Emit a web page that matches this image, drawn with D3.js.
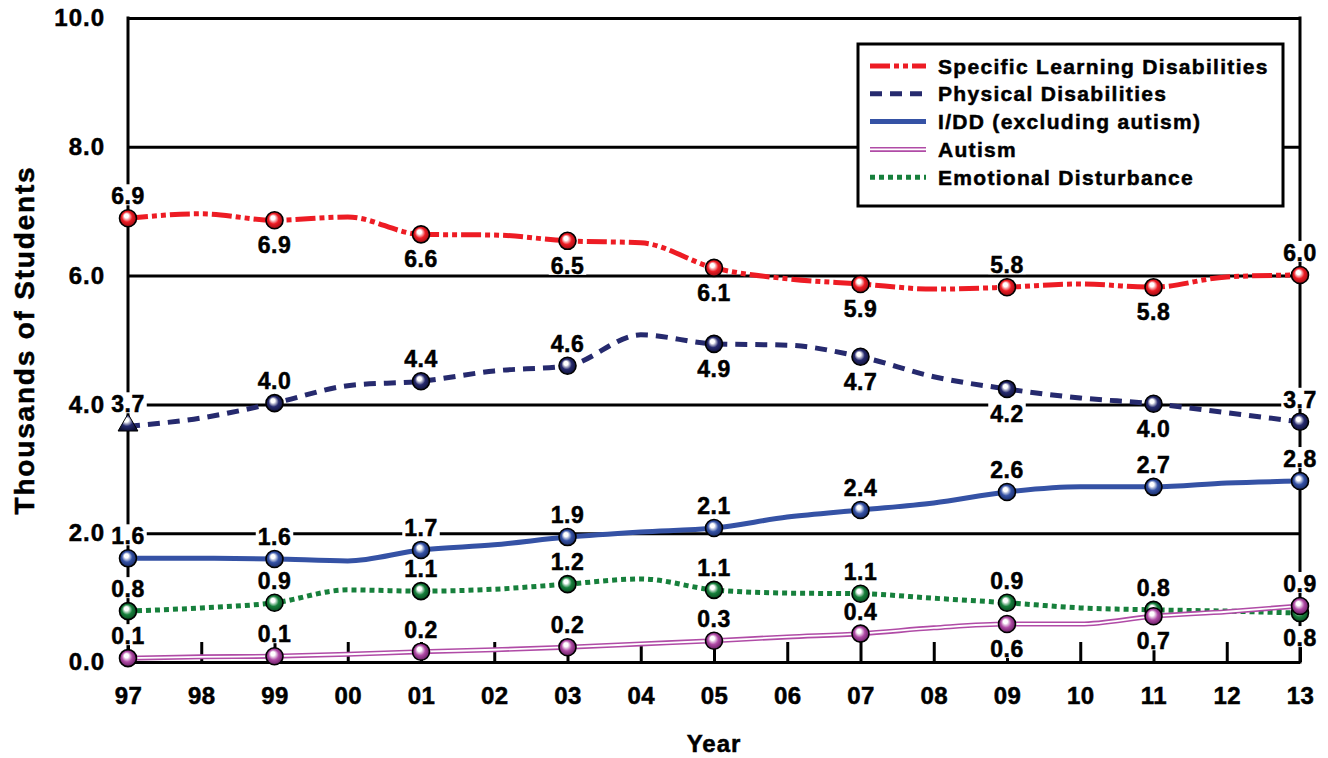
<!DOCTYPE html>
<html>
<head>
<meta charset="UTF-8">
<script src="https://d3js.org/d3.v7.min.js"></script>
<style>
  body { margin: 0; background: #fff; }
  text { font-family: "Liberation Sans", Arial, sans-serif; font-weight: bold; fill: #000; stroke: #000; stroke-width: 0.5px; }
</style>
</head>
<body>
<div id="chart"></div>
<script>
  // data

  const years = ["97","98","99","00","01","02","03","04","05","06","07","08","09","10","11","12","13"];
  const yTicks = [0, 2, 4, 6, 8, 10];

  const specificLearning = [6.89, 6.96, 6.86, 6.91, 6.64, 6.63, 6.54, 6.51, 6.12, 5.95, 5.87, 5.79, 5.82, 5.87, 5.82, 5.98, 6.01];
  const physical         = [3.66, 3.79, 4.02, 4.29, 4.36, 4.52, 4.60, 5.08, 4.94, 4.92, 4.74, 4.43, 4.24, 4.10, 4.01, 3.87, 3.73];
  const idd              = [1.61, 1.61, 1.60, 1.57, 1.74, 1.82, 1.94, 2.02, 2.08, 2.25, 2.36, 2.47, 2.64, 2.72, 2.72, 2.78, 2.81];
  const autism           = [0.06, 0.08, 0.09, 0.12, 0.16, 0.19, 0.23, 0.28, 0.33, 0.39, 0.44, 0.53, 0.59, 0.59, 0.71, 0.78, 0.87];
  const emotional        = [0.79, 0.84, 0.92, 1.12, 1.10, 1.13, 1.21, 1.29, 1.12, 1.07, 1.06, 0.99, 0.92, 0.84, 0.81, 0.79, 0.76];

  const seriesNames = ["Specific Learning Disabilities", "Physical Disabilities", "I/DD (excluding autism)", "Autism", "Emotional Disturbance"];

  // set up

  const W = 1328, H = 758;
  const plot = { left: 128, right: 1300, top: 18, bottom: 662 };

  const svg = d3.select('#chart')
    .append('svg')
      .attr('width', W)
      .attr('height', H);

  const x = d3.scalePoint()
      .domain(years)
      .range([plot.left, plot.right]);

  const y = d3.scaleLinear()
      .domain([0, 10])
      .range([plot.bottom, plot.top]);

  // series styles (label side for each marked year: 97, 99, ... 13)
  const series = [
    { key: seriesNames[0], values: specificLearning, color: '#ed1c24', dark: '#8c0a10', dash: '20 4 5 4 5 4',
      sides: ['up','down','down','down','down','down','up','down','up'] },
    { key: seriesNames[1], values: physical, color: '#262a6e', dark: '#0c0e30', dash: '12 8',
      sides: ['up','up','up','up','down','down','down','down','up'] },
    { key: seriesNames[2], values: idd, color: '#3552a5', dark: '#14245a', dash: null,
      sides: ['up','up','up','up','up','up','up','up','up'] },
    { key: seriesNames[3], values: autism, color: '#b04ba6', dark: '#5a1656', dash: null, double: true,
      sides: ['up','up','up','up','up','up','down','down','up'] },
    { key: seriesNames[4], values: emotional, color: '#17803c', dark: '#06401a', dash: '5 4',
      sides: ['up','up','up','up','up','up','up','up','down'] }
  ];
  const drawOrder = [0, 1, 2, 4, 3];

  // gradients for the ball markers
  const defs = svg.append('defs');
  series.forEach((s, i) => {
    const g = defs.append('radialGradient')
        .attr('id', 'ball' + i)
        .attr('cx', '50%').attr('cy', '50%').attr('r', '55%')
        .attr('fx', '38%').attr('fy', '32%');
    g.append('stop').attr('offset', '0%').attr('stop-color', '#fff');
    g.append('stop').attr('offset', '22%').attr('stop-color', '#fff');
    g.append('stop').attr('offset', '55%').attr('stop-color', s.color);
    g.append('stop').attr('offset', '100%').attr('stop-color', s.dark);
  });

  // axes

  const yAxis = d3.axisLeft(y)
      .tickValues(yTicks)
      .tickSize(-(plot.right - plot.left))
      .tickPadding(23)
      .tickFormat(d3.format('.1f'));

  svg.append('g')
      .attr('transform', `translate(${plot.left},0)`)
      .call(yAxis)
      .call(g => g.select('.domain').remove())
      .call(g => g.selectAll('.tick line').attr('stroke', '#000').attr('stroke-width', 3))
      .call(g => g.selectAll('.tick text')
          .attr('font-size', 24).attr('letter-spacing', 1)
          .attr('font-family', '"Liberation Sans", Arial, sans-serif').attr('font-weight', 'bold'));

  const xAxis = d3.axisBottom(x)
      .tickSize(-20)
      .tickPadding(25);

  svg.append('g')
      .attr('transform', `translate(0,${plot.bottom})`)
      .call(xAxis)
      .call(g => g.select('.domain').remove())
      .call(g => g.selectAll('.tick line').attr('stroke', '#000').attr('stroke-width', 3))
      .call(g => g.selectAll('.tick text')
          .attr('font-size', 24).attr('letter-spacing', 0.5)
          .attr('font-family', '"Liberation Sans", Arial, sans-serif').attr('font-weight', 'bold'));

  // side frame
  svg.append('g')
      .selectAll('line')
      .data([plot.left, plot.right])
      .join('line')
        .attr('x1', d => d).attr('x2', d => d)
        .attr('y1', plot.top - 1.5).attr('y2', plot.bottom + 1.5)
        .attr('stroke', '#000')
        .attr('stroke-width', 3);

  // axis titles
  svg.append('text')
      .attr('transform', `translate(34,${(plot.top + plot.bottom) / 2}) rotate(-90)`)
      .attr('text-anchor', 'middle')
      .attr('font-size', 28)
      .attr('letter-spacing', 1.8)
      .text('Thousands of Students');

  svg.append('text')
      .attr('x', (plot.left + plot.right) / 2)
      .attr('y', 752)
      .attr('text-anchor', 'middle')
      .attr('font-size', 24)
      .attr('letter-spacing', 1)
      .text('Year');

  // lines

  const line = d3.line()
      .x((d, i) => x(years[i]))
      .y(d => y(d))
      .curve(d3.curveMonotoneX);

  const lines = svg.append('g').attr('fill', 'none');
  drawOrder.forEach(i => {
    const s = series[i];
    lines.append('path')
        .attr('d', line(s.values))
        .attr('stroke', s.color)
        .attr('stroke-width', 5)
        .attr('stroke-dasharray', s.dash);
    if (s.double) {
      lines.append('path')
          .attr('d', line(s.values))
          .attr('stroke', '#fff')
          .attr('stroke-width', 1.8);
    }
  });

  // value labels with white boxes

  const fmt = d3.format('.1f');
  const labels = svg.append('g');
  series.forEach(s => {
    s.values.forEach((v, i) => {
      if (i % 2) return;
      const side = s.sides[i / 2];
      const ty = side === 'up' ? y(v) - 14 : y(v) + 33;
      const g = labels.append('g');
      const t = g.append('text')
          .attr('x', x(years[i]))
          .attr('y', ty)
          .attr('text-anchor', 'middle')
          .attr('font-size', 23)
          .attr('letter-spacing', 0.5)
          .text(fmt(v));
      const b = t.node().getBBox();
      g.insert('rect', 'text')
          .attr('x', b.x - 2).attr('y', b.y + 1)
          .attr('width', b.width + 4).attr('height', ty + 1 - (b.y + 1))
          .attr('fill', '#fff');
    });
  });

  // markers

  const markers = svg.append('g');
  drawOrder.forEach(si => {
    const s = series[si];
    s.values.forEach((v, i) => {
      if (i % 2) return;
      if (si === 1 && i === 0) {
        markers.append('path')
            .attr('d', d3.symbol(d3.symbolTriangle, 170)())
            .attr('transform', `translate(${x(years[i])},${y(v) - 1})`)
            .attr('fill', `url(#ball${si})`)
            .attr('stroke', '#000')
            .attr('stroke-width', 1);
        return;
      }
      markers.append('circle')
          .attr('cx', x(years[i]))
          .attr('cy', y(v))
          .attr('r', 8.5)
          .attr('fill', `url(#ball${si})`)
          .attr('stroke', '#000')
          .attr('stroke-width', 1.6);
    });
  });

  // legend

  const legend = svg.append('g');
  legend.append('rect')
      .attr('x', 858).attr('y', 44)
      .attr('width', 425).attr('height', 162)
      .attr('fill', '#fff')
      .attr('stroke', '#000')
      .attr('stroke-width', 3);

  series.forEach((s, i) => {
    const ly = 66 + i * 27.8;
    legend.append('line')
        .attr('x1', 870).attr('x2', 926)
        .attr('y1', ly).attr('y2', ly)
        .attr('stroke', s.color)
        .attr('stroke-width', 5)
        .attr('stroke-dasharray', s.dash);
    if (s.double) {
      legend.append('line')
          .attr('x1', 870).attr('x2', 926)
          .attr('y1', ly).attr('y2', ly)
          .attr('stroke', '#fff')
          .attr('stroke-width', 1.8);
    }
    legend.append('text')
        .attr('x', 938)
        .attr('y', ly)
        .attr('dy', '0.36em')
        .attr('font-size', 21)
        .attr('letter-spacing', 1.3)
        .text(s.key);
  });
</script>
</body>
</html>
